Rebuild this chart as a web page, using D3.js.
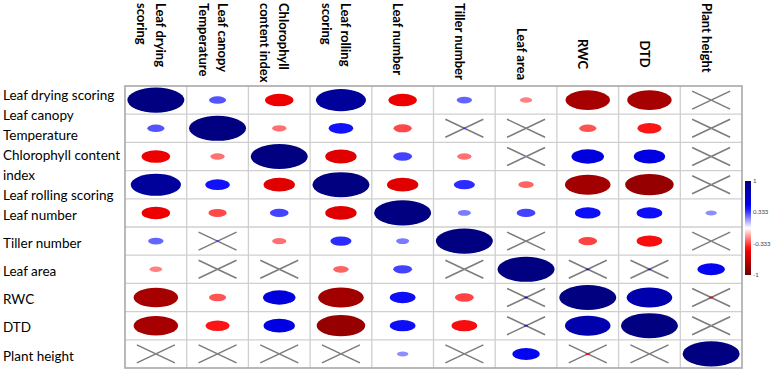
<!DOCTYPE html>
<html lang="en">
<head>
	<meta charset="utf-8">
	<title>Correlation matrix</title>
	<script src="https://cdn.jsdelivr.net/npm/d3@7"></script>
	<style>
		body { margin: 0; background: #fff; }
		.rowlab { font-family: Lato, "Open Sans", sans-serif; font-size: 13.5px; fill: #000; }
		.collab { font-family: Lato, "Open Sans", sans-serif; font-size: 13px; font-weight: bold; fill: #000; }
		.cbar text { font-family: Lato, sans-serif; font-size: 6px; fill: #444; }
	</style>
</head>
<body>
	<div id="chart"></div>
	<script>
	// variable names (row labels wrap differently from the column labels)
	var rowLabels = [["Leaf drying scoring"], ["Leaf canopy", "Temperature"], ["Chlorophyll content", "index"],
		["Leaf rolling scoring"], ["Leaf number"], ["Tiller number"], ["Leaf area"], ["RWC"], ["DTD"], ["Plant height"]];
	var colLabels = [["Leaf drying", "scoring"], ["Leaf canopy", "Temperature"], ["Chlorophyll", "content index"],
		["Leaf rolling", "scoring"], ["Leaf number"], ["Tiller number"], ["Leaf area"], ["RWC"], ["DTD"], ["Plant height"]];

	// correlation coefficients
	var corr = [
		[ 1.00,  0.30, -0.50,  0.88, -0.50,  0.27, -0.22, -0.78, -0.78,  0.03],
		[ 0.30,  1.00, -0.25,  0.43, -0.32,  0.06,  0.02, -0.30, -0.42,  0.02],
		[-0.50, -0.25,  1.00, -0.55,  0.33, -0.25,  0.03,  0.57,  0.55, -0.02],
		[ 0.88,  0.43, -0.55,  1.00, -0.55,  0.37, -0.27, -0.80, -0.85,  0.03],
		[-0.50, -0.32,  0.33, -0.55,  1.00,  0.23,  0.33,  0.45,  0.45,  0.20],
		[ 0.27,  0.06, -0.25,  0.37,  0.23,  1.00,  0.02, -0.33, -0.45,  0.02],
		[-0.22,  0.02,  0.03, -0.27,  0.33,  0.02,  1.00,  0.07,  0.07,  0.48],
		[-0.78, -0.30,  0.57, -0.80,  0.45, -0.33,  0.07,  1.00,  0.80, -0.08],
		[-0.78, -0.42,  0.55, -0.85,  0.45, -0.45,  0.07,  0.80,  1.00,  0.02],
		[ 0.03,  0.02, -0.02,  0.03,  0.20,  0.02,  0.48, -0.08,  0.02,  1.00]
	];
	var legendTicks = [1, 0.333, -0.333, -1];
	var crossBelow = 0.1; // |r| under this is marked as not significant

	var w = 777, h = 380;
	var svg = d3.select("#chart").append("svg").attr("width", w).attr("height", h);

	var idx = d3.range(corr.length);
	var x = d3.scaleBand().domain(idx).range([125, 742]);
	var y = d3.scaleBand().domain(idx).range([86, 368]);
	var size = d3.scaleLinear().domain([0, 1]).range([0, 57]);
	var color = d3.scaleLinear()
		.domain([-1, -0.5, -0.4, 0, 0.4, 0.5, 1])
		.range(["#700000", "#ee0000", "#ff1a1a", "#ffffff", "#1a1aff", "#0000ee", "#000080"]);

	var cells = [];
	corr.forEach(function(row, i) {
		row.forEach(function(v, j) { cells.push({i: i, j: j, v: v}); });
	});

	// grid
	var grid = svg.append("g");
	grid.selectAll(".vl").data(d3.range(1, corr.length)).enter().append("line")
		.attr("x1", function(d) { return x(d); }).attr("x2", function(d) { return x(d); })
		.attr("y1", y.range()[0]).attr("y2", y.range()[1])
		.attr("stroke", "#cfcfcf").attr("stroke-width", 1.3);
	grid.selectAll(".hl").data(d3.range(1, corr.length)).enter().append("line")
		.attr("y1", function(d) { return y(d); }).attr("y2", function(d) { return y(d); })
		.attr("x1", x.range()[0]).attr("x2", x.range()[1])
		.attr("stroke", "#cfcfcf").attr("stroke-width", 1.3);
	grid.append("rect")
		.attr("x", x.range()[0]).attr("y", y.range()[0])
		.attr("width", x.range()[1] - x.range()[0]).attr("height", y.range()[1] - y.range()[0])
		.attr("fill", "none").attr("stroke", "#a8a8a8").attr("stroke-width", 1.6);

	// crosses for weak correlations
	var bw = x.bandwidth(), bh = y.bandwidth();
	var weak = cells.filter(function(d) { return Math.abs(d.v) < crossBelow; });
	var cr = svg.selectAll(".cross").data(weak).enter().append("g")
		.attr("transform", function(d) { return "translate(" + (x(d.j) + bw / 2) + "," + (y(d.i) + bh / 2) + ")"; });
	cr.append("line").attr("x1", -19).attr("y1", -9).attr("x2", 19).attr("y2", 9)
		.attr("stroke", "#7c7c7c").attr("stroke-width", 1.5);
	cr.append("line").attr("x1", -19).attr("y1", 9).attr("x2", 19).attr("y2", -9)
		.attr("stroke", "#7c7c7c").attr("stroke-width", 1.5);

	// ellipses
	svg.selectAll(".ell").data(cells).enter().append("ellipse")
		.attr("cx", function(d) { return x(d.j) + bw / 2; })
		.attr("cy", function(d) { return y(d.i) + bh / 2; })
		.attr("rx", function(d) { return size(Math.abs(d.v)) / 2; })
		.attr("ry", function(d) { return size(Math.abs(d.v)) / 2 * 0.44; })
		.attr("fill", function(d) { return Math.abs(d.v) < crossBelow ? color(d.v * 6) : color(d.v); });

	// row labels: first five flow as one text block, the rest sit on their rows
	var lines = [];
	var k = 0;
	rowLabels.forEach(function(lab, i) {
		lab.forEach(function(t) {
			var yy = i < 5 ? 95.7 + k * 19.9 : y(i) + bh / 2 + 2;
			lines.push({t: t, y: yy});
			k++;
		});
	});
	svg.selectAll(".rowlab").data(lines).enter().append("text")
		.attr("class", "rowlab")
		.attr("x", 3)
		.attr("y", function(d) { return d.y; })
		.attr("dy", "0.35em")
		.text(function(d) { return d.t; });

	// column labels, rotated to read downwards
	var mid = [6, 7, 8];
	var cl = svg.selectAll(".collab").data(colLabels).enter().append("text")
		.attr("class", "collab")
		.attr("text-anchor", function(d, i) { return mid.indexOf(i) >= 0 ? "middle" : "start"; })
		.attr("transform", function(d, i) {
			var ty = mid.indexOf(i) >= 0 ? 54 : 3;
			return "translate(" + (x(i) + bw / 2 - 5) + "," + ty + ") rotate(90)";
		});
	cl.selectAll("tspan").data(function(d) { return d.map(function(t, kk) { return {t: t, k: kk, n: d.length}; }); })
		.enter().append("tspan")
		.attr("x", 0)
		.attr("y", function(d) { return (d.k - (d.n - 1) / 2) * 19 + 4.5; })
		.text(function(d) { return d.t; });

	// colour bar
	var cb = svg.append("g").attr("class", "cbar");
	var cy = d3.scaleLinear().domain([1, -1]).range([181, 275]);
	var grad = svg.append("defs").append("linearGradient").attr("id", "cg")
		.attr("x1", 0).attr("y1", 0).attr("x2", 0).attr("y2", 1);
	grad.selectAll("stop").data(d3.range(0, 1.0001, 0.05)).enter().append("stop")
		.attr("offset", function(d) { return d; })
		.attr("stop-color", function(d) { return color(1 - 2 * d); });
	cb.append("rect").attr("x", 745).attr("y", cy(1)).attr("width", 6)
		.attr("height", cy(-1) - cy(1)).attr("fill", "url(#cg)");
	cb.selectAll("text").data(legendTicks).enter().append("text")
		.attr("x", 753).attr("y", function(d) { return cy(d); }).attr("dy", "0.35em")
		.text(function(d) { return d; });
	</script>
</body>
</html>
